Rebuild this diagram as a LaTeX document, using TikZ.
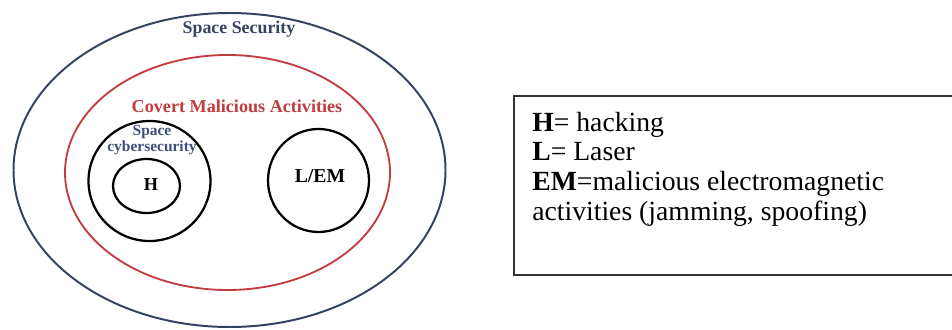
\documentclass[tikz,border=0pt]{standalone}
\usepackage{fontspec}
\setmainfont{Liberation Serif}
\usepackage{tikz}
\usetikzlibrary{positioning}
\definecolor{spacenavy}{HTML}{34435F}
\definecolor{covertred}{HTML}{C23B3F}
\definecolor{cyberblue}{HTML}{3D4E7C}

\begin{document}
\begin{tikzpicture}[x=0.025cm, y=-0.025cm]
  \useasboundingbox (0,0) rectangle (952,329);
  \clip (0,0) rectangle (952,329);

  % nested sets
  \draw[spacenavy, line width=1.4pt] (229.5,170) ellipse [x radius=216, y radius=157];
  \draw[covertred, line width=1.3pt] (227.5,172.5) ellipse [x radius=162.5, y radius=117.5];
  \draw[black, line width=1.6pt] (149.5,181) ellipse [x radius=61, y radius=60];
  \draw[black, line width=1.6pt] (146.5,186) ellipse [x radius=33.5, y radius=27];
  \draw[black, line width=1.6pt] (318.5,180.5) ellipse [x radius=50.5, y radius=51.5];

  \node[spacenavy, font=\fontsize{12.7}{14}\selectfont\bfseries] (secTitle) at (239, 29) {Space Security};
  \node[covertred, font=\fontsize{12.9}{14}\selectfont\bfseries] (covTitle) at (237, 106) {Covert Malicious Activities};
  \node[cyberblue, font=\fontsize{11}{12}\selectfont\bfseries, align=center, inner sep=0pt] (cybTitle) at (152, 140) {Space\\cybersecurity};
  \node[font=\fontsize{13}{14}\selectfont\bfseries] (hack) at (151, 185) {H};
  \node[font=\fontsize{14}{15}\selectfont\bfseries] (lem) at (320, 176) {L/EM};

  % legend
  \draw[black!80, line width=1.2pt] (955,96) -- (514,96) -- (514,275) -- (955,275);
  \node[anchor=base west, align=left, inner sep=0pt, font=\rmfamily\fontsize{19.7}{21}\selectfont] (legend) at (532, 220)
    {\textbf{H}= hacking\\ \textbf{L}= Laser\\ \textbf{EM}=malicious electromagnetic\\ activities (jamming, spoofing)};
\end{tikzpicture}
\end{document}
